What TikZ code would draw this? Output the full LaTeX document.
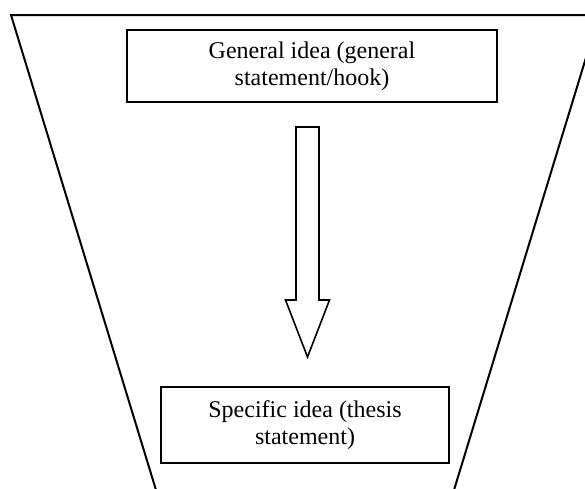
\documentclass[tikz,border=0pt]{standalone}
\usepackage{fontspec}
\setmainfont{Liberation Serif}
\newcommand{\downArrow}{%
  \draw[arrowStyle] (arrowTop) ++(-\shaftHalf,0) -- ++(2*\shaftHalf,0)
  -- ++(0,\shaftLength) -- ++(\headExtend,0) -- (arrowTip)
  -- ++(-\shaftHalf-\headExtend,-\headLength) -- ++(\headExtend,0) -- cycle;
}

\begin{document}
\begin{tikzpicture}[%
  x=1pt,y=-1pt,
  funnelStyle/.style={line width=2pt},
  boxStyle/.style={draw,line width=2pt,inner sep=0pt,align=center,
    font=\fontsize{24}{26.5}\selectfont},
  arrowStyle/.style={line width=1.6pt}%
]
%
%
\pgfmathsetmacro{\shaftHalf}{11.5}   % Half width of the arrow shaft.
\pgfmathsetmacro{\headExtend}{10.5}  % How far the head sticks out.
\pgfmathsetmacro{\shaftLength}{173}
\pgfmathsetmacro{\headLength}{57}
\useasboundingbox (0,0) rectangle (585,488);
\clip (0,0) rectangle (585,488);
%
%
% The funnel.
\coordinate (funnelTL) at (11,15);
\coordinate (funnelTR) at (599,15);
\coordinate (funnelBL) at (156,490);
\coordinate (funnelBR) at (454,490);
\draw[funnelStyle] (funnelBL) -- (funnelTL) -- (funnelTR) -- (funnelBR);
%
% The two ideas.
\node[boxStyle,minimum width=370pt,minimum height=72pt] (general)
  at (312,66) {General idea (general\\statement/hook)};
\node[boxStyle,minimum width=288pt,minimum height=76pt] (specific)
  at (305,425) {Specific idea (thesis\\statement)};
%
% From general to specific.
\coordinate (arrowTop) at (307.5,127);
\coordinate (arrowTip) at (307.5,357);
\downArrow
\end{tikzpicture}
\end{document}
